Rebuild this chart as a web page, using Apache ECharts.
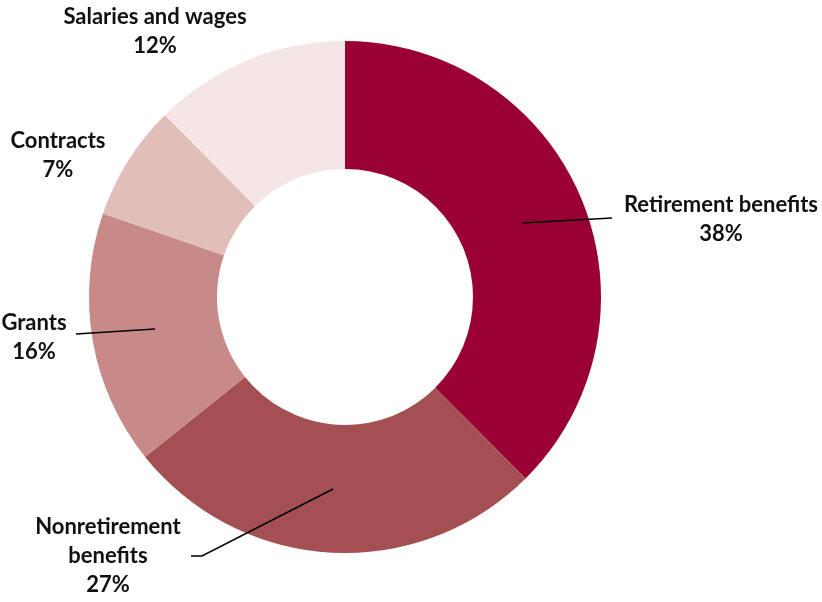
<!DOCTYPE html>
<html>
<head>
<meta charset="utf-8">
<script src="https://cdn.jsdelivr.net/npm/echarts@6/dist/echarts.min.js"></script>
<style>
  html, body { margin: 0; padding: 0; background: #fff; }
  #chart { width: 822px; height: 602px; }
</style>
</head>
<body>
<div id="chart"></div>
<script>
  // spending categories, clockwise from the top (shares)
  const categories = ["Retirement benefits", "Nonretirement benefits", "Grants", "Contracts", "Salaries and wages"]
  const shares = [37.5, 26.7, 16.0, 7.3, 12.4]
  const colors = ["#990033", "#A45052", "#C88A88", "#E2BEB9", "#F4E6E4"]

  // where each label sits and the leader line it gets (null = no line)
  const labelSpots = [
    { x: 721, y: 219, line: [[522, 223], [612, 218]] },
    { x: 108, y: 556, line: [[333, 489], [202, 556], [191, 556]] },
    { x: 34, y: 337, line: [[155, 329], [76, 334]] },
    { x: 58, y: 155, line: null },
    { x: 155, y: 31, line: null }
  ]

  const chart = echarts.init(document.getElementById("chart"))

  // leader lines run into the slices, so draw them on top of the ring
  const leaders = labelSpots
    .filter(s => s.line)
    .map(s => ({
      type: "polyline",
      z: 100,
      shape: { points: s.line },
      style: { stroke: "#000", lineWidth: 1.5, fill: null }
    }))

  chart.setOption({
    animation: false,
    graphic: leaders,
    series: [
      {
        type: "pie",
        center: [345, 297],
        radius: [128, 256],
        startAngle: 90,
        clockwise: true,
        avoidLabelOverlap: false,
        data: categories.map((name, i) => ({
          name: name,
          value: shares[i],
          itemStyle: { color: colors[i] }
        })),
        label: {
          show: true,
          position: "outside",
          fontFamily: "Lato",
          fontWeight: "bold",
          fontSize: 22,
          lineHeight: 29,
          color: "#111",
          align: "center",
          formatter: p => p.name.replace("Nonretirement ", "Nonretirement\n") + "\n" + Math.round(p.percent) + "%"
        },
        labelLine: { show: false },
        labelLayout: params => {
          const spot = labelSpots[params.dataIndex]
          return {
            x: spot.x,
            y: spot.y,
            align: "center",
            verticalAlign: "middle"
          }
        }
      }
    ]
  })
</script>
</body>
</html>
